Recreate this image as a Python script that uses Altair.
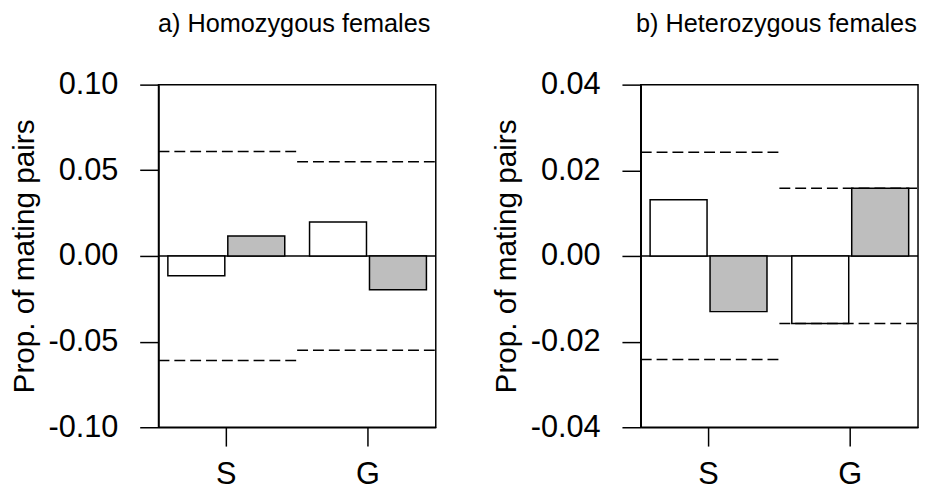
import altair as alt
import pandas as pd

groups = ["S", "G"]
series = ["white", "grey"]

# panel a) Homozygous females
a_white = [-0.0116, 0.0198]
a_grey = [0.0116, -0.0198]
a_upper = [0.061, 0.055]
a_lower = [-0.061, -0.055]
a_ticks = [-0.10, -0.05, 0.00, 0.05, 0.10]

# panel b) Heterozygous females
b_white = [0.0131, -0.0158]
b_grey = [-0.0130, 0.0158]
b_upper = [0.0242, 0.0158]
b_lower = [-0.0242, -0.0158]
b_ticks = [-0.04, -0.02, 0.00, 0.02, 0.04]

titles = ["a) Homozygous females", "b) Heterozygous females"]
y_title = "Prop. of mating pairs"

FONT = "Liberation Sans"


def panel(title, white, grey, upper, lower, ticks):
    rows = []
    for i, g in enumerate(groups):
        rows.append({"group": g, "series": "white", "value": white[i]})
        rows.append({"group": g, "series": "grey", "value": grey[i]})
    bars_df = pd.DataFrame(rows)

    lim_rows = []
    for i, g in enumerate(groups):
        lim_rows.append({"x0": i, "x1": i + 1, "value": upper[i]})
        lim_rows.append({"x0": i, "x1": i + 1, "value": lower[i]})
    lim_df = pd.DataFrame(lim_rows)

    yscale = alt.Scale(domain=[ticks[0], ticks[-1]], nice=False, zero=False)
    ydef = alt.Y(
        "value:Q",
        scale=yscale,
        axis=alt.Axis(
            values=ticks,
            title=y_title,
            labelExpr="(datum.value < -1e-9 ? '-' : '') + format(abs(datum.value), '.2f')",
        ),
    )

    zero = alt.Chart(pd.DataFrame({"value": [0.0]})).mark_rule(
        color="black", strokeWidth=1.5
    ).encode(y=ydef)

    bars = alt.Chart(bars_df).mark_bar(stroke="black", strokeWidth=1.5).encode(
        x=alt.X(
            "group:N",
            sort=groups,
            title=None,
            scale=alt.Scale(paddingInner=0.175, paddingOuter=0.066),
            axis=alt.Axis(labelAngle=0),
        ),
        xOffset=alt.XOffset("series:N", sort=series, scale=alt.Scale(paddingInner=0.05)),
        y=ydef,
        fill=alt.Fill(
            "series:N",
            scale=alt.Scale(domain=series, range=["#ffffff", "#bebebe"]),
            legend=None,
        ),
    )

    lims = alt.Chart(lim_df).mark_rule(
        color="black", strokeWidth=1.5, strokeDash=[11, 5]
    ).encode(
        x=alt.X("x0:Q", scale=alt.Scale(domain=[0, 2], nice=False, zero=False), axis=None),
        x2="x1:Q",
        y=ydef,
    )

    return (
        alt.layer(zero, bars, lims)
        .resolve_scale(x="independent")
        .properties(
            width=280,
            height=346,
            title=alt.TitleParams(title, dx=-3),
        )
    )


pa = panel(titles[0], a_white, a_grey, a_upper, a_lower, a_ticks)
pb = panel(titles[1], b_white, b_grey, b_upper, b_lower, b_ticks)

chart = (
    alt.hconcat(
        pa,
        pb,
        spacing=53,
        background="white",
        padding={"left": 0, "top": 0, "right": 0, "bottom": 0},
    )
    .configure_view(stroke="black", strokeWidth=1.5)
    .configure_axis(
        grid=False,
        domainColor="black",
        domainWidth=1.5,
        tickColor="black",
        tickWidth=1.5,
        tickSize=19,
        labelFont=FONT,
        labelFontSize=31,
        labelColor="black",
        titleFont=FONT,
        titleFontSize=30,
        titleFontWeight="normal",
        titleColor="black",
    )
    .configure_axisY(labelPadding=22, titlePadding=9)
    .configure_axisX(labelPadding=14)
    .configure_title(
        font=FONT, fontSize=25.5, fontWeight="normal", color="black", anchor="middle",
        offset=32,
    )
)

chart.save("out.html", embed_options={"renderer": "svg", "actions": False})
